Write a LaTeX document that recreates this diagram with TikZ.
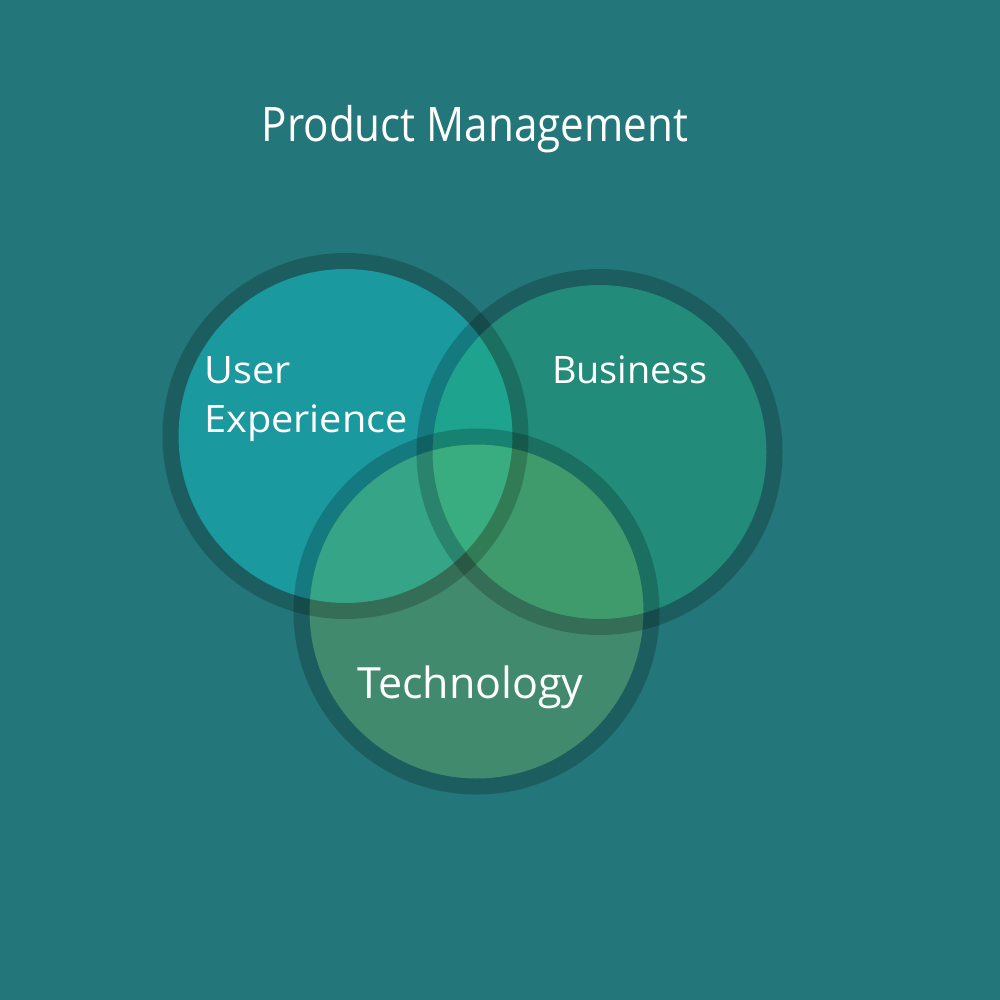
\documentclass[tikz,border=0pt]{standalone}
\usepackage{fontspec}
\setmainfont{Open Sans}
\definecolor{bg}{HTML}{237679}
\definecolor{cUX}{HTML}{1A999F}
\definecolor{cBus}{HTML}{228B79}
\definecolor{cTech}{HTML}{428A6D}
\definecolor{cUB}{HTML}{1EA38F}
\definecolor{cUT}{HTML}{35A487}
\definecolor{cBT}{HTML}{3F9B6B}
\definecolor{cAll}{HTML}{39AD7F}
\tikzset{
  ring/.style={draw=black, draw opacity=0.2, line width=16pt},
  lbl/.style={text=white, anchor=base west, inner sep=0pt, font=\fontsize{37.8}{45}\selectfont},
}
\begin{document}
\begin{tikzpicture}[x=1pt,y=-1pt]
\fill[bg] (0,0) rectangle (1000,1000);
\useasboundingbox (0,0) rectangle (1000,1000);
\coordinate (ux) at (345.5,436);
\coordinate (bus) at (599.5,452);
\coordinate (tech) at (476.5,611.5);
\def\R{175}
\def\F{167}
% base fills
\fill[cUX] (ux) circle[radius=\F];
\fill[cBus] (bus) circle[radius=\F];
\fill[cTech] (tech) circle[radius=\F];
% pairwise overlaps
\begin{scope}
  \clip (ux) circle[radius=\F];
  \fill[cUB] (bus) circle[radius=\F];
  \fill[cUT] (tech) circle[radius=\F];
\end{scope}
\begin{scope}
  \clip (bus) circle[radius=\F];
  \fill[cBT] (tech) circle[radius=\F];
\end{scope}
\begin{scope}
  \clip (ux) circle[radius=\F];
  \clip (bus) circle[radius=\F];
  \fill[cAll] (tech) circle[radius=\F];
\end{scope}
% rings
\draw[ring] (ux) circle[radius=\R];
\draw[ring] (bus) circle[radius=\R];
\draw[ring] (tech) circle[radius=\R];
% labels
\node[lbl, font=\fontsize{47.6}{57}\selectfont] (title) at (261.5,142) {\scalebox{0.887}[1]{Product Management}};
\node[lbl] (user) at (204,383) {\scalebox{1.05}[1]{User}};
\node[lbl] (exp) at (204,432) {\scalebox{1.05}[1]{Experience}};
\node[lbl] (busl) at (552,383) {Business};
\node[lbl, font=\fontsize{43}{52}\selectfont] (techl) at (357,698) {Technology};
\end{tikzpicture}
\end{document}
